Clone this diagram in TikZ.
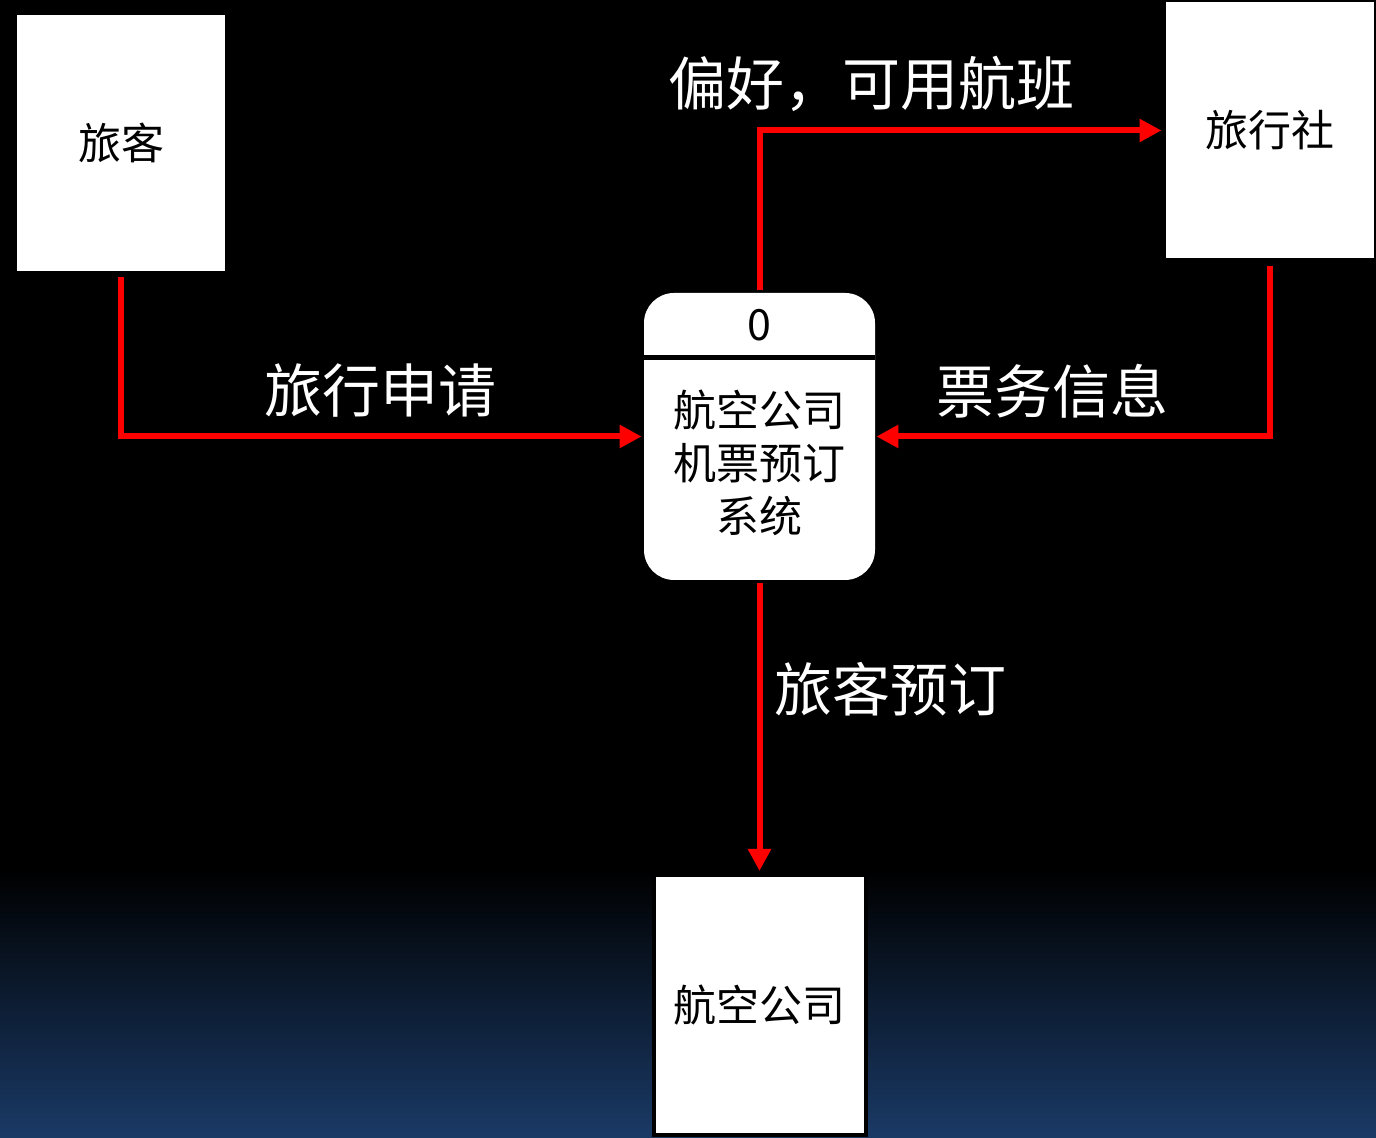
\documentclass[tikz,border=0pt]{standalone}
\usepackage{fontspec}
\setmainfont{Noto Sans CJK SC}
\usetikzlibrary{arrows.meta,positioning}
\definecolor{bgblue}{RGB}{26,58,102}

\begin{document}
\begin{tikzpicture}[x=0.5pt,y=0.5pt, >={Triangle[length=11pt,width=11pt]},
  ent/.style={draw=black,line width=2pt,fill=white,inner sep=0pt,minimum width=106pt,minimum height=130pt,font=\fontsize{21.5}{26}\selectfont},
  proc/.style={fill=white,rounded corners=15pt,inner sep=0pt,minimum width=115.5pt,minimum height=143.5pt},
  ptext/.style={align=center,font=\fontsize{21.5}{26.5}\selectfont},
  flow/.style={->,red,line width=3pt},
  lbl/.style={text=white,font=\fontsize{29}{34}\selectfont}]
  \useasboundingbox (0,0) rectangle (1376,1138);
  % background
  \fill[black] (0,0) rectangle (1376,1138);
  \shade[top color=black,bottom color=bgblue] (0,0) rectangle (1376,268);
  % external entities
  \node[ent] (traveler) at (121,995) {旅客};
  \node[ent] (agency) at (1269.5,1007.5) {旅行社};
  \node[ent] (airline) at (759.5,133) {航空公司};
  % process
  \node[proc] (proc) at (759.5,701.5) {};
  \draw[black,line width=2.5pt] ([yshift=-32.5pt]proc.north west) -- ([yshift=-32.5pt]proc.north east);
  \node[ptext] (procid) at (759.5,813) {0};
  \node[ptext] (procname) at (759.5,675) {航空公司\\机票预订\\系统};
  % flows
  \draw[flow,shorten <=1pt,shorten >=1pt] (traveler.south) |- (proc.west);
  \draw[flow,shorten <=2pt,shorten >=0.5pt] (agency.south) |- (proc.east);
  \draw[flow,shorten <=1.5pt] (proc.north) |- (agency.west);
  \draw[flow,shorten <=1.5pt,shorten >=1pt] (proc.south) -- (airline.north);
  % flow labels
  \node[lbl] (lreq) at (380,747) {旅行申请};
  \node[lbl] (lticket) at (1052,747) {票务信息};
  \node[lbl] (lpref) at (871,1054) {偏好，可用航班};
  \node[lbl] (lbook) at (890,449) {旅客预订};
\end{tikzpicture}
\end{document}
